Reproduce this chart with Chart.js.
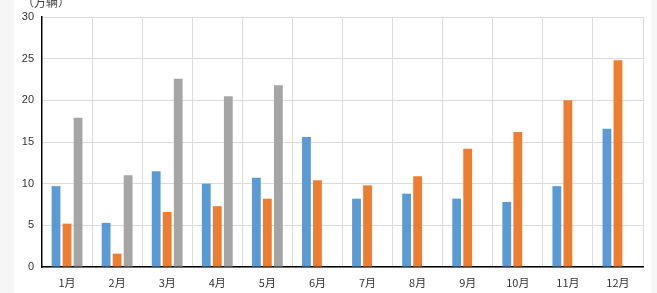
<!DOCTYPE html>
<html>
<head>
<meta charset="utf-8">
<script src="https://cdn.jsdelivr.net/npm/chart.js@4/dist/chart.umd.min.js"></script>
<style>
  html, body { margin: 0; padding: 0; background: #f6f6f6; }
  #page { position: absolute; left: 14px; top: 0; width: 637px; height: 293px; background: #fff; }
  #wrap { position: absolute; left: 0; top: 0; width: 657px; height: 293px; }
</style>
</head>
<body>
<div id="page"></div>
<div id="wrap"><canvas id="chart" width="657" height="293"></canvas></div>
<script>
var months = ["1月", "2月", "3月", "4月", "5月", "6月", "7月", "8月", "9月", "10月", "11月", "12月"];
var seriesA = [9.7, 5.3, 11.5, 10.0, 10.7, 15.6, 8.2, 8.8, 8.2, 7.8, 9.7, 16.6];
var seriesB = [5.2, 1.6, 6.6, 7.3, 8.2, 10.4, 9.8, 10.9, 14.2, 16.2, 20.0, 24.8];
var seriesC = [17.9, 11.0, 22.6, 20.5, 21.8, null, null, null, null, null, null, null];
var unitLabel = "（万辆）";

// unit text above the y axis
var unitPlugin = {
  id: 'unit',
  afterDraw: function(chart) {
    var ctx = chart.ctx;
    ctx.save();
    ctx.font = "12px 'Noto Sans CJK SC'";
    ctx.fillStyle = "#404040";
    ctx.textAlign = "left";
    ctx.textBaseline = "middle";
    ctx.fillText(unitLabel, 22, 2);
    ctx.restore();
  }
};

var ctx = document.getElementById("chart").getContext("2d");
new Chart(ctx, {
  type: "bar",
  data: {
    labels: months,
    datasets: [{
      label: "A",
      backgroundColor: "#5B9BD5",
      data: seriesA
    }, {
      label: "B",
      backgroundColor: "#ED7D31",
      data: seriesB
    }, {
      label: "C",
      backgroundColor: "#A5A5A5",
      data: seriesC
    }]
  },
  options: {
    responsive: false,
    animation: false,
    categoryPercentage: 0.66,
    barPercentage: 0.8,
    layout: {
      padding: { left: 0, right: 14, top: 17, bottom: 0 }
    },
    plugins: {
      legend: { display: false },
      tooltip: { enabled: false }
    },
    scales: {
      x: {
        grid: {
          color: "#dcdcdc",
          drawTicks: false,
          offset: true
        },
        border: { color: "#000", width: 1.5 },
        ticks: {
          padding: 9,
          color: "#333",
          font: { size: 11, family: "'Noto Sans CJK SC'" }
        },
        afterFit: function(scale) { scale.height = 26; }
      },
      y: {
        min: 0,
        max: 30,
        grid: {
          color: "#dcdcdc",
          drawTicks: false
        },
        border: { color: "#000", width: 1.5 },
        ticks: {
          stepSize: 5,
          padding: 8,
          color: "#333",
          font: { size: 11, family: "Arial, 'Liberation Sans'" }
        },
        afterFit: function(scale) { scale.width = 42; }
      }
    }
  },
  plugins: [unitPlugin]
});
</script>
</body>
</html>
